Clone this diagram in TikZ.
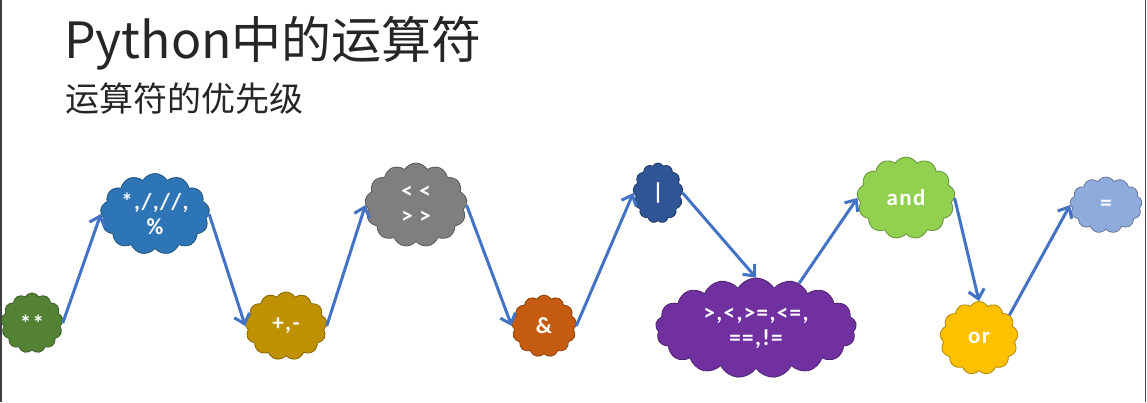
\documentclass[tikz,border=0pt]{standalone}
\usepackage{fontspec}
\setmainfont{Carlito}
\newfontfamily\lbl{Carlito}[LetterSpace=6]
\newfontfamily\cjk{Noto Sans CJK SC}
\usetikzlibrary{shapes.symbols,arrows.meta}
\definecolor{cgreen}{HTML}{548235}
\definecolor{cblue}{HTML}{2E75B6}
\definecolor{cgold}{HTML}{BF9000}
\definecolor{cgray}{HTML}{7F7F7F}
\definecolor{corange}{HTML}{C55A11}
\definecolor{cnavy}{HTML}{2F5597}
\definecolor{cpurple}{HTML}{7030A0}
\definecolor{clime}{HTML}{92D050}
\definecolor{cyellow}{HTML}{FFC000}
\definecolor{clight}{HTML}{8FAADC}
\definecolor{arrowblue}{HTML}{4472C4}
\definecolor{framegray}{HTML}{404040}
\definecolor{titlegray}{HTML}{262626}
\tikzset{
  cl/.style={cloud, cloud puffs=13, cloud puff arc=120, cloud ignores aspect,
    line width=0.8pt, inner sep=0pt, text=white, align=center,
    font=\lbl\bfseries\fontsize{23}{25}\selectfont},
  cf/.style={cl, fill=#1, draw=#1!70!black},
  arr/.style={draw=arrowblue, line width=3pt,
    -{Straight Barb[length=9pt,width=16pt]}},
  ttl/.style={anchor=base west, inner sep=0pt, text=titlegray}
}
\begin{document}
\begin{tikzpicture}[x=1pt,y=-1pt]
\useasboundingbox (0,0) rectangle (1147,402);
\fill[white] (0,0) rectangle (1147,402);
\draw[framegray, line width=2pt] (1,0) -- (1,402);
\draw[framegray, line width=1.5pt] (1145.5,0) -- (1145.5,402);

\node[ttl, font=\cjk\fontsize{50}{52}\selectfont] (title) at (64,58) {Python中的运算符};
\node[ttl, font=\cjk\fontsize{34}{36}\selectfont] (sub) at (65,111) {运算符的优先级};

\node[cf=cgreen, minimum width=62pt, minimum height=60pt] (pow) at (32,323) {**};
\node[cf=cblue, minimum width=109pt, minimum height=81pt] (mul) at (155,214) {*,/,//,\\\%};
\node[cf=cgold, minimum width=82pt, minimum height=68pt] (add) at (286,326) {+,-};
\node[cf=cgray, minimum width=102pt, minimum height=84pt] (sh) at (416,205) {< <\\> >};
\node[cf=corange, minimum width=65pt, minimum height=62pt] (band) at (544,326) {\&};
\node[cf=cnavy, minimum width=50pt, minimum height=60pt] (bor) at (658,193) {|};
\node[cf=cpurple, cloud puffs=17, minimum width=201pt, minimum height=100pt] (cmp) at (756,328) {>,<,>=,<=,\\==,!=};
\node[cf=clime, minimum width=98pt, minimum height=82pt] (andn) at (906,198) {and};
\node[cf=cyellow, minimum width=78pt, minimum height=73pt] (orn) at (979,338) {or};
\node[cf=clight, minimum width=72pt, minimum height=56pt] (asg) at (1106,205) {=};

\draw[arr] (pow.east) -- (mul.west);
\draw[arr] (mul.east) -- (add.west);
\draw[arr] (add.east) -- (sh.west);
\draw[arr] (sh.east) -- (band.west);
\draw[arr] (band.east) -- (bor.west);
\draw[arr] (bor.east) -- (cmp.north);
\draw[arr] (cmp.46) -- (andn.west);
\draw[arr] (andn.east) -- (orn.north);
\draw[arr] (orn.37) -- (asg.west);
\end{tikzpicture}
\end{document}
